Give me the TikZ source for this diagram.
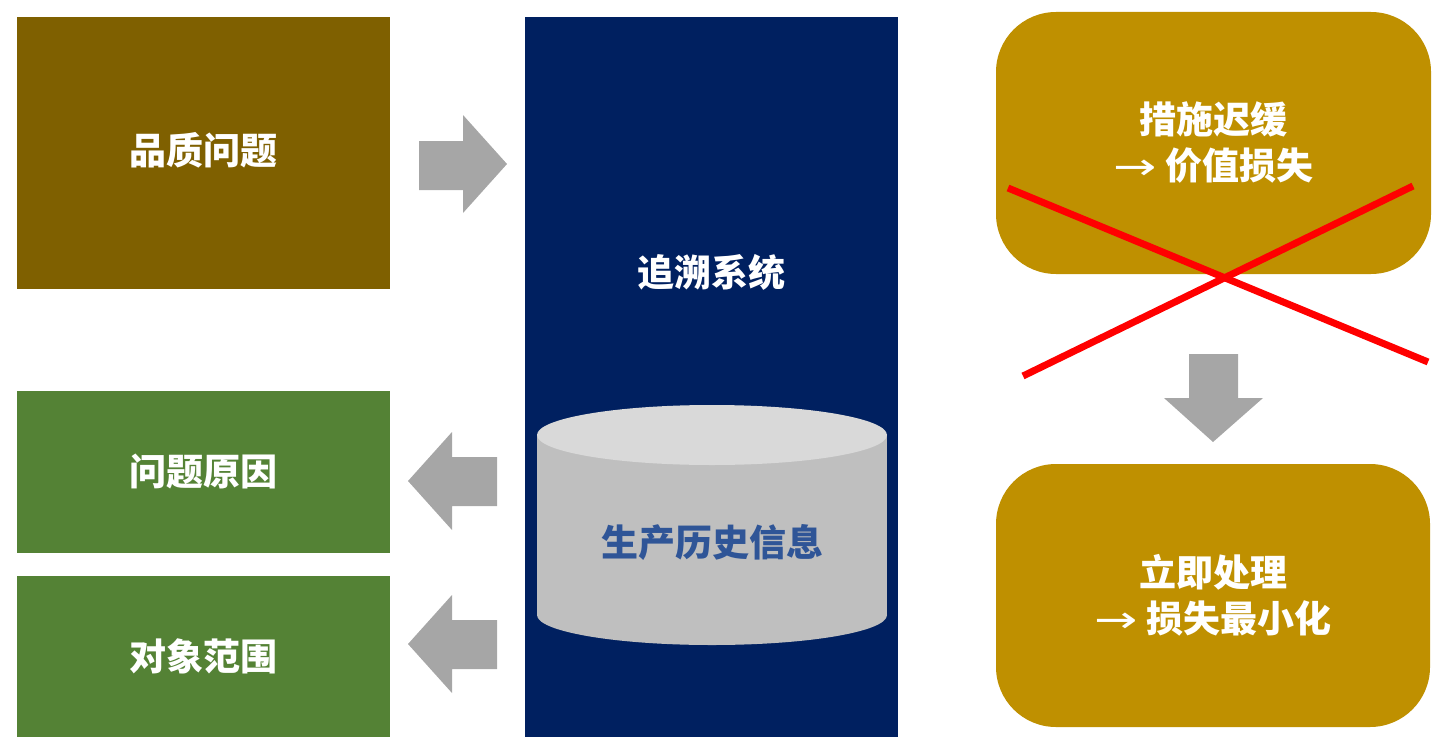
\documentclass[tikz,border=0pt]{standalone}
\usepackage{fontspec}
\setmainfont{Noto Sans CJK SC}
\newfontfamily\arrowfont{DejaVu Sans}
\newcommand{\rarr}{\scalebox{1.4}[1]{\arrowfont\mdseries →}}
\definecolor{olivebox}{HTML}{7F6000}
\definecolor{greenbox}{HTML}{548235}
\definecolor{navybox}{HTML}{002060}
\definecolor{goldbox}{HTML}{BF9000}
\definecolor{arrowgray}{HTML}{A6A6A6}
\definecolor{cyltop}{HTML}{D9D9D9}
\definecolor{cylside}{HTML}{BFBFBF}
\definecolor{cyltext}{HTML}{2F5597}
\tikzset{
  box/.style={fill=#1, inner sep=0pt, text=white, align=center,
    font=\bfseries\fontsize{27.75}{34.5}\selectfont},
  label/.style={inner sep=0pt, text=white, align=center,
    font=\bfseries\fontsize{27.75}{34.5}\selectfont},
  crossline/.style={draw=red, line width=5.25pt}
}
\begin{document}
\begin{tikzpicture}[x=0.75pt, y=-0.75pt]
\useasboundingbox (0,0) rectangle (1444,749);

% left side
\node[box=olivebox, minimum width=279.75pt, minimum height=204pt] (quality) at (203.5,153) {};
\node[label] (qualitytext) at (203.5,150) {品质问题};
\node[box=greenbox, minimum width=279.75pt, minimum height=121.5pt] (cause) at (203.5,472) {问题原因};
\node[box=greenbox, minimum width=279.75pt, minimum height=120.75pt] (scope) at (203.5,656.5) {对象范围};

% trace system column
\node[box=navybox, minimum width=279.75pt, minimum height=540pt] (system) at (711.5,377) {};
\node[label] (systemtext) at (711.5,272) {追溯系统};

% database
\path[fill=cylside] (712,615) ellipse [x radius=175, y radius=30];
\path[fill=cylside] (537,435) rectangle (887,615);
\path[fill=cyltop] (712,435) ellipse [x radius=175, y radius=30];
\node[label, text=cyltext] (history) at (712,543) {生产历史信息};

% block arrows
\path[fill=arrowgray] (419,141) -- (463,141) -- (463,115) -- (507,164) -- (463,213) -- (463,190) -- (419,190) -- cycle;
\path[fill=arrowgray] (497,457) -- (452,457) -- (452,432) -- (408,481) -- (452,530) -- (452,506) -- (497,506) -- cycle;
\path[fill=arrowgray] (497,620) -- (452,620) -- (452,595) -- (408,644) -- (452,693) -- (452,669) -- (497,669) -- cycle;
\path[fill=arrowgray] (1189,354) -- (1238,354) -- (1238,398) -- (1263,398) -- (1213,442) -- (1164,398) -- (1189,398) -- cycle;

% right side
\node[box=goldbox, rounded corners=45pt, minimum width=326.25pt, minimum height=196.5pt] (delay) at (1213.5,143) {措施迟缓\\\rarr{} 价值损失};
\node[box=goldbox, rounded corners=45pt, minimum width=325.5pt, minimum height=197.25pt] (now) at (1213,595.5) {立即处理\\\rarr{} 损失最小化};

\coordinate (c1) at (1008,188);
\coordinate (c2) at (1428,362);
\coordinate (c3) at (1023,376);
\coordinate (c4) at (1413,186);
\path[crossline] (c1) -- (c2);
\path[crossline] (c3) -- (c4);
\end{tikzpicture}
\end{document}
